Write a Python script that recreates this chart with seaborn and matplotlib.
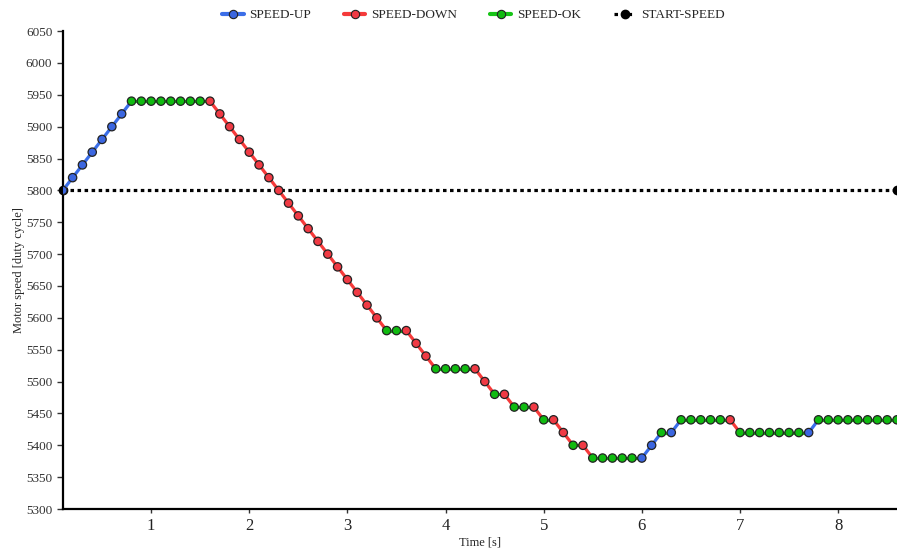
import numpy as np
import pandas as pd
import matplotlib
matplotlib.use("Agg")
import matplotlib.pyplot as plt
from matplotlib.lines import Line2D
import seaborn as sns

# --- dane ---
time_s = [
    0.1, 0.2, 0.3, 0.4, 0.5, 0.6, 0.7, 0.8, 0.9, 1.0,
    1.1, 1.2, 1.3, 1.4, 1.5, 1.6, 1.7, 1.8, 1.9, 2.0,
    2.1, 2.2, 2.3, 2.4, 2.5, 2.6, 2.7, 2.8, 2.9, 3.0,
    3.1, 3.2, 3.3, 3.4, 3.5, 3.6, 3.7, 3.8, 3.9, 4.0,
    4.1, 4.2, 4.3, 4.4, 4.5, 4.6, 4.7, 4.8, 4.9, 5.0,
    5.1, 5.2, 5.3, 5.4, 5.5, 5.6, 5.7, 5.8, 5.9, 6.0,
    6.1, 6.2, 6.3, 6.4, 6.5, 6.6, 6.7, 6.8, 6.9, 7.0,
    7.1, 7.2, 7.3, 7.4, 7.5, 7.6, 7.7, 7.8, 7.9, 8.0,
    8.1, 8.2, 8.3, 8.4, 8.5, 8.6,
]
speed = [
    5800, 5820, 5840, 5860, 5880, 5900, 5920, 5940, 5940, 5940,
    5940, 5940, 5940, 5940, 5940, 5940, 5920, 5900, 5880, 5860,
    5840, 5820, 5800, 5780, 5760, 5740, 5720, 5700, 5680, 5660,
    5640, 5620, 5600, 5580, 5580, 5580, 5560, 5540, 5520, 5520,
    5520, 5520, 5520, 5500, 5480, 5480, 5460, 5460, 5460, 5440,
    5440, 5420, 5400, 5400, 5380, 5380, 5380, 5380, 5380, 5380,
    5400, 5420, 5420, 5440, 5440, 5440, 5440, 5440, 5440, 5420,
    5420, 5420, 5420, 5420, 5420, 5420, 5420, 5440, 5440, 5440,
    5440, 5440, 5440, 5440, 5440, 5440,
]
state = (
    ["SPEED-UP"] * 7 + ["SPEED-OK"] * 8 + ["SPEED-DOWN"] * 18
    + ["SPEED-OK"] * 2 + ["SPEED-DOWN"] * 3 + ["SPEED-OK"] * 4
    + ["SPEED-DOWN"] * 2 + ["SPEED-OK"] + ["SPEED-DOWN"]
    + ["SPEED-OK"] * 2 + ["SPEED-DOWN"] + ["SPEED-OK"] + ["SPEED-DOWN"] * 2
    + ["SPEED-OK"] + ["SPEED-DOWN"] + ["SPEED-OK"] * 5 + ["SPEED-UP"] * 2
    + ["SPEED-OK"] + ["SPEED-UP"] + ["SPEED-OK"] * 5 + ["SPEED-DOWN"]
    + ["SPEED-OK"] * 7 + ["SPEED-UP"] + ["SPEED-OK"] * 9
)
start_speed = 5800
start_time = [0.1, 8.6]

line_colors = {"SPEED-UP": "#3b6ee8", "SPEED-DOWN": "#f53a3a", "SPEED-OK": "#16c416"}
marker_colors = {"SPEED-UP": "#3b66e0", "SPEED-DOWN": "#f03a44", "SPEED-OK": "#10bb10"}

df = pd.DataFrame({"Time": time_s, "Speed": speed, "State": state})

# odcinki: kolor wg punktu poczatkowego
seg_rows = []
for i in range(len(df) - 1):
    for j in (i, i + 1):
        seg_rows.append({"Time": time_s[j], "Speed": speed[j], "State": state[i], "seg": i})
seg_df = pd.DataFrame(seg_rows)

sns.set_theme(style="ticks")
plt.rcParams["font.family"] = ["Liberation Serif", "DejaVu Serif"]

fig = plt.figure(figsize=(8.97, 5.5), dpi=100)
ax = fig.add_axes([0.070, 0.0745, 0.930, 0.869])

ax.plot(start_time, [start_speed] * 2, color="black", linewidth=2.3,
        dashes=(1.1, 1.1), marker="o", markersize=6, zorder=2, clip_on=False)

sns.lineplot(data=seg_df, x="Time", y="Speed", hue="State", units="seg",
             estimator=None, palette=line_colors, linewidth=2.3, legend=False,
             ax=ax, zorder=3)
sns.scatterplot(data=df, x="Time", y="Speed", hue="State", palette=marker_colors,
                s=36, edgecolor="#222222", linewidth=0.9, legend=False, ax=ax,
                zorder=4, clip_on=True)

ax.set_xlim(0.1, 8.6)
ax.set_ylim(5300, 6050)
ax.set_yticks(np.arange(5300, 6051, 50))
ax.set_xticks([1, 2, 3, 4, 5, 6, 7, 8])
ax.tick_params(axis="y", labelsize=9.5, length=4, width=1, colors="#333333", labelcolor="#333333")
ax.tick_params(axis="x", labelsize=12, length=3, width=1, colors="#333333", labelcolor="#222222")
ax.set_xlabel("Time [s]", fontsize=9, labelpad=2)
ax.set_ylabel("Motor speed [duty cycle]", fontsize=9, labelpad=0.5)
sns.despine(ax=ax)
for side in ("left", "bottom"):
    ax.spines[side].set_linewidth(1.6)
    ax.spines[side].set_color("black")

handles = [
    Line2D([], [], color=line_colors[k], linewidth=3, marker="o", markersize=6,
           markerfacecolor=marker_colors[k], markeredgecolor="#222222", markeredgewidth=0.8)
    for k in ["SPEED-UP", "SPEED-DOWN", "SPEED-OK"]
]
handles.append(Line2D([], [], color="black", linewidth=2.3, dashes=(1.1, 1.1),
                      marker="o", markersize=6))
fig.legend(handles, ["SPEED-UP", "SPEED-DOWN", "SPEED-OK", "START-SPEED"],
           loc="upper center", bbox_to_anchor=(0.528, 1.005), ncol=4, frameon=False,
           fontsize=9.5, handlelength=1.6, columnspacing=2.5, handletextpad=0.45)

fig.savefig("out.png", dpi=100)
